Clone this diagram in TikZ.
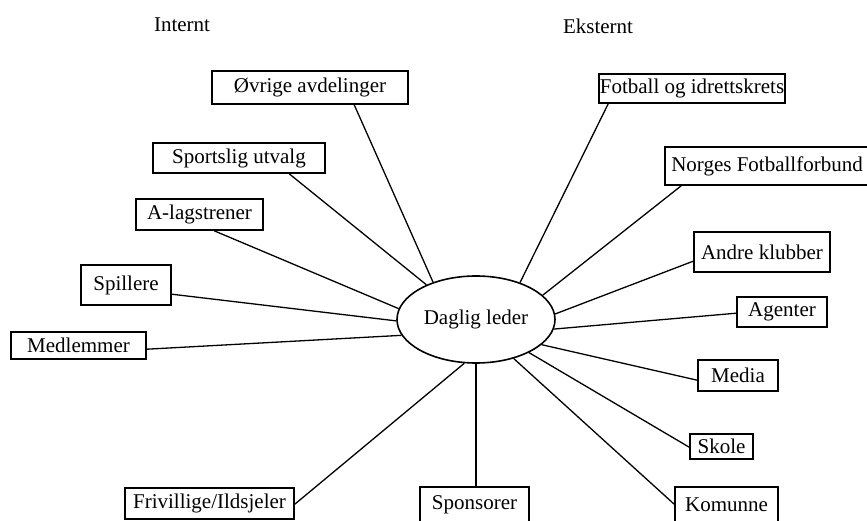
\documentclass[tikz,border=0pt]{standalone}
\usepackage{fontspec}
\setmainfont{Liberation Serif}
\usetikzlibrary{shapes.geometric}
\begin{document}
\begin{tikzpicture}[x=1pt,y=-1pt,
  txt/.style={font=\fontsize{21}{25}\selectfont, inner sep=0pt},
  boxnode/.style={txt, draw, line width=1.6pt, align=center},
  conn/.style={line width=1.3pt},
  lead/.style={ellipse, draw, line width=1.6pt, inner sep=0pt, txt}]
\useasboundingbox[fill=white] (0,0) rectangle (867,521);
% headings
\node[txt] (int) at (182,25) {Internt};
\node[txt] (eks) at (598,26) {Eksternt};
% centre
\node[lead, minimum width=158pt, minimum height=87pt] (dl) at (476,319.5) {Daglig leder};
% internal
\node[boxnode, minimum width=196pt, minimum height=33pt] (ovr) at (310,87.5) {Øvrige avdelinger};
\node[boxnode, minimum width=172pt, minimum height=30pt] (spu) at (239,158) {Sportslig utvalg};
\node[boxnode, minimum width=127pt, minimum height=31pt] (alag) at (199.5,214.5) {A-lagstrener};
\node[boxnode, minimum width=90pt, minimum height=40pt] (spi) at (126,285) {Spillere};
\node[boxnode, minimum width=135pt, minimum height=27pt] (med) at (78.5,345.5) {Medlemmer};
\node[boxnode, minimum width=169pt, minimum height=31pt] (fri) at (209.5,503.5) {Frivillige/Ildsjeler};
\node[boxnode, minimum width=109pt, minimum height=35pt] (spo) at (474.5,504.5) {Sponsorer};
% external
\node[boxnode, minimum width=186pt, minimum height=29pt] (fik) at (692,88.5) {Fotball og idrettskrets};
\node[boxnode, minimum width=204pt, minimum height=38pt] (nff) at (767,166) {Norges Fotballforbund};
\node[boxnode, minimum width=136pt, minimum height=40pt] (akl) at (762,252) {Andre klubber};
\node[boxnode, minimum width=90pt, minimum height=30pt] (age) at (782,312) {Agenter};
\node[boxnode, minimum width=80pt, minimum height=31pt] (mda) at (738,375.5) {Media};
\node[boxnode, minimum width=63pt, minimum height=25pt] (sko) at (721.5,446.5) {Skole};
\node[boxnode, minimum width=103pt, minimum height=35pt] (kom) at (726.5,504.5) {Komunne};
% connectors
\draw[conn] (ovr.south west) ++(143,0) -- (dl.139);
\draw[conn] (spu.south west) ++(137,0) -- (dl.145);
\draw[conn] (alag.south west) ++(79,0) -- (dl.172);
\draw[conn] (spi.north east) ++(0,30) -- (dl.181);
\draw[conn] (med.north east) ++(0,18) -- (dl.192);
\draw[conn] (fri.north east) ++(0,17) -- (dl.255);
\draw[conn] (dl.south) -- (dl.south |- spo.north);
\draw[conn] (kom.north west) ++(0,18) -- (dl.314);
\draw[conn] (sko.north west) ++(0,14) -- (dl.328);
\draw[conn] (mda.north west) ++(0,21) -- (dl.339);
\draw[conn] (age.north west) ++(0,17) -- (dl.353);
\draw[conn] (akl.north west) ++(0,30) -- (dl.4);
\draw[conn] (nff.south west) ++(17,0) -- (dl.20);
\draw[conn] (fik.south west) ++(10,0) -- (dl.40);
\end{tikzpicture}
\end{document}
